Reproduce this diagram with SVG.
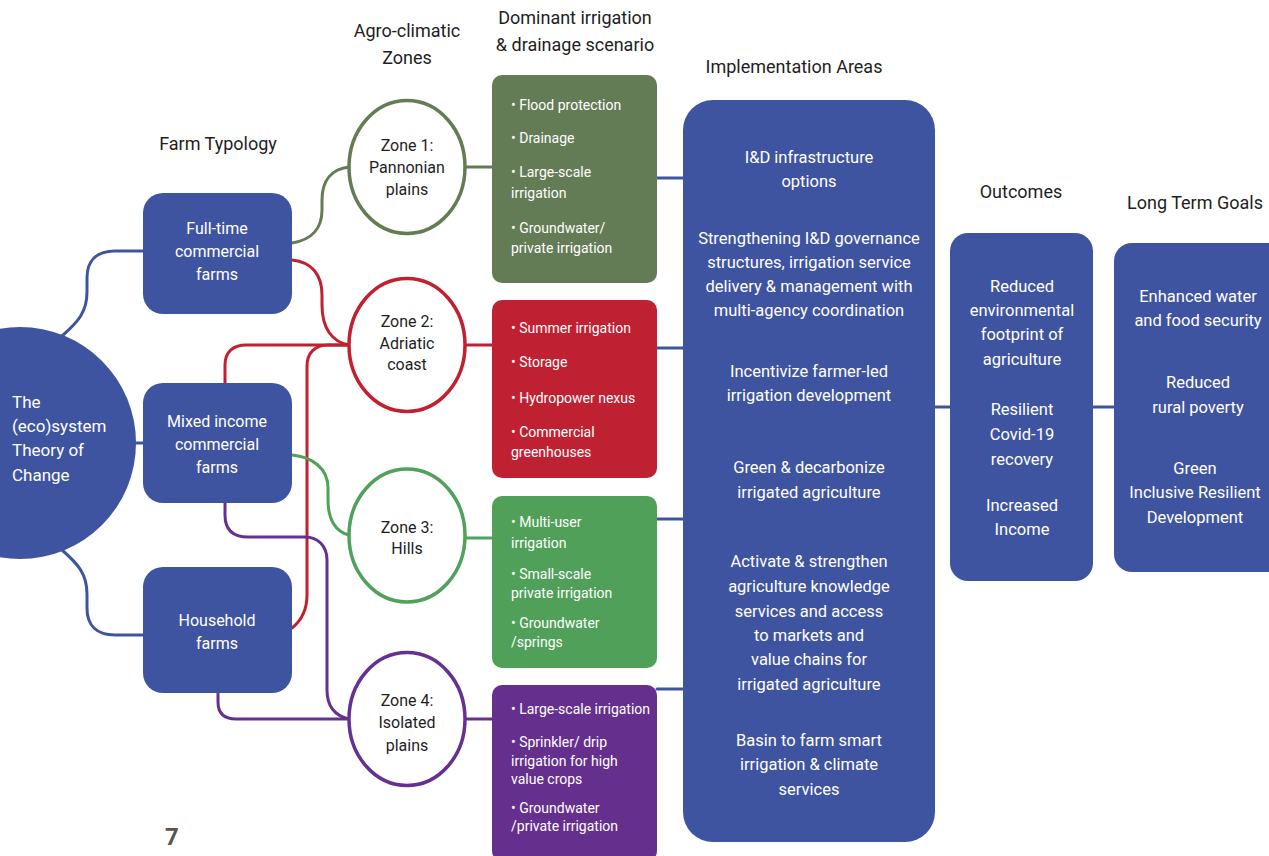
<svg xmlns="http://www.w3.org/2000/svg" width="1269" height="856" viewBox="0 0 1269 856">
<style>
  .hdr{font-family:Roboto,"Liberation Sans",sans-serif;font-size:18px;fill:#1e1e1e;text-anchor:middle}
  .wt{font-family:Roboto,"Liberation Sans",sans-serif;font-weight:400;fill:#ffffff}
  .c{text-anchor:middle}
  .big{font-size:16.5px}
  .farm{font-size:16px}
  .sc{font-size:14px}
  .zt{font-family:Roboto,"Liberation Sans",sans-serif;font-weight:400;font-size:16px;fill:#1e1e1e;text-anchor:middle}
  .blue{fill:#3F54A0}
  .ln{fill:none;stroke-width:3;stroke-linecap:round;stroke-linejoin:round}
  .lb{stroke:#3F54A0}
  .lo{stroke:#637C53}
  .lr{stroke:#C0202F}
  .lg{stroke:#50A15A}
  .lp{stroke:#653090}
  .zone{fill:#ffffff;stroke-width:3.5}
</style>

<!-- headers -->
<g id="headers">
  <text class="hdr" x="218" y="150">Farm Typology</text>
  <text class="hdr" x="407" y="37">Agro-climatic</text>
  <text class="hdr" x="407" y="64">Zones</text>
  <text class="hdr" x="575" y="24">Dominant irrigation</text>
  <text class="hdr" x="575" y="51">&amp; drainage scenario</text>
  <text class="hdr" x="794" y="73">Implementation Areas</text>
  <text class="hdr" x="1021" y="198">Outcomes</text>
  <text class="hdr" x="1195" y="209">Long Term Goals</text>
</g>

<!-- connectors -->
<g id="connectors">
  <path class="ln lb" d="M62 336 C78 322 87 312 87 292 L87 278 C87 260 97 251 115 251 L143 251"/>
  <path class="ln lb" d="M62 550 C78 564 87 574 87 594 L87 608 C87 626 97 635 115 635 L143 635"/>
  <path class="ln lb" d="M134 443 L143 443"/>

  <path class="ln lo" d="M292 243 C312 240 322 228 322 210 L322 200 C322 180 332 169 349 167"/>
  <path class="ln lr" d="M292 260 C312 262 322 275 322 295 L322 305 C322 328 332 342 349 345"/>
  <path class="ln lr" d="M225 383 L225 365 C225 352 233 345 246 345 L349 345"/>
  <path class="ln lr" d="M292 628 C302 620 307 610 307 595 L307 366 C307 353 315 345 328 345 L349 345"/>
  <path class="ln lg" d="M292 455 C312 457 328 468 328 488 L328 500 C328 520 336 532 349 535"/>
  <path class="ln lp" d="M225 503 L225 515 C225 530 233 537 248 537 L305 537 C318 537 327 546 327 560 L327 690 C327 708 336 716 349 719"/>
  <path class="ln lp" d="M218 693 L218 702 C218 713 224 719 236 719 L349 719"/>

  <path class="ln lo" d="M466 167 L493 167"/>
  <path class="ln lr" d="M466 345 L493 345"/>
  <path class="ln lg" d="M466 538 L493 538"/>
  <path class="ln lp" d="M466 719 L493 719"/>

  <path class="ln lb" d="M657 178 L683 178"/>
  <path class="ln lb" d="M657 348 L683 348"/>
  <path class="ln lb" d="M657 519 L683 519"/>
  <path class="ln lb" d="M657 689 L683 689"/>

  <path class="ln lb" d="M935 407 L950 407"/>
  <path class="ln lb" d="M1092 407 L1115 407"/>
</g>

<!-- root -->
<g id="root">
  <circle class="blue" cx="20" cy="443" r="116"/>
  <text class="wt" font-size="17" x="12" y="408">The</text>
  <text class="wt" font-size="17" x="12" y="432">(eco)system</text>
  <text class="wt" font-size="17" x="12" y="456">Theory of</text>
  <text class="wt" font-size="17" x="12" y="481">Change</text>
</g>

<!-- farms -->
<g id="farm-fulltime">
  <rect class="blue" x="143" y="193" width="149" height="121" rx="20"/>
  <text class="wt c farm" x="217" y="234">Full-time</text>
  <text class="wt c farm" x="217" y="257">commercial</text>
  <text class="wt c farm" x="217" y="280">farms</text>
</g>
<g id="farm-mixed">
  <rect class="blue" x="143" y="383" width="149" height="120" rx="20"/>
  <text class="wt c farm" x="217" y="427">Mixed income</text>
  <text class="wt c farm" x="217" y="450">commercial</text>
  <text class="wt c farm" x="217" y="473">farms</text>
</g>
<g id="farm-household">
  <rect class="blue" x="143" y="567" width="149" height="126" rx="20"/>
  <text class="wt c farm" x="217" y="626">Household</text>
  <text class="wt c farm" x="217" y="649">farms</text>
</g>

<!-- zones -->
<g id="zone1">
  <ellipse class="zone" cx="407" cy="167" rx="58" ry="66.5" stroke="#637C53"/>
  <text class="zt" x="407" y="151">Zone 1:</text>
  <text class="zt" x="407" y="173">Pannonian</text>
  <text class="zt" x="407" y="195">plains</text>
</g>
<g id="zone2">
  <ellipse class="zone" cx="407" cy="345" rx="58" ry="66.5" stroke="#C0202F"/>
  <text class="zt" x="407" y="327">Zone 2:</text>
  <text class="zt" x="407" y="349">Adriatic</text>
  <text class="zt" x="407" y="370">coast</text>
</g>
<g id="zone3">
  <ellipse class="zone" cx="407" cy="535.5" rx="58" ry="66.5" stroke="#50A15A"/>
  <text class="zt" x="407" y="533">Zone 3:</text>
  <text class="zt" x="407" y="554">Hills</text>
</g>
<g id="zone4">
  <ellipse class="zone" cx="407" cy="719" rx="58" ry="66.5" stroke="#653090"/>
  <text class="zt" x="407" y="706">Zone 4:</text>
  <text class="zt" x="407" y="728">Isolated</text>
  <text class="zt" x="407" y="751">plains</text>
</g>

<!-- scenarios -->
<g id="scenario1">
  <rect x="492" y="75" width="165" height="208" rx="10" fill="#647C55"/>
  <text class="wt sc" x="511" y="110">• Flood protection</text>
  <text class="wt sc" x="511" y="143">• Drainage</text>
  <text class="wt sc" x="511" y="177">• Large-scale</text>
  <text class="wt sc" x="511" y="198">irrigation</text>
  <text class="wt sc" x="511" y="233">• Groundwater/</text>
  <text class="wt sc" x="511" y="253">private irrigation</text>
</g>
<g id="scenario2">
  <rect x="492" y="300" width="165" height="178" rx="10" fill="#BF2132"/>
  <text class="wt sc" x="511" y="333">• Summer irrigation</text>
  <text class="wt sc" x="511" y="367">• Storage</text>
  <text class="wt sc" x="511" y="403">• Hydropower nexus</text>
  <text class="wt sc" x="511" y="437">• Commercial</text>
  <text class="wt sc" x="511" y="457">greenhouses</text>
</g>
<g id="scenario3">
  <rect x="492" y="496" width="165" height="172" rx="10" fill="#51A05A"/>
  <text class="wt sc" x="511" y="527">• Multi-user</text>
  <text class="wt sc" x="511" y="548">irrigation</text>
  <text class="wt sc" x="511" y="579">• Small-scale</text>
  <text class="wt sc" x="511" y="598">private irrigation</text>
  <text class="wt sc" x="511" y="628">• Groundwater</text>
  <text class="wt sc" x="511" y="647">/springs</text>
</g>
<g id="scenario4">
  <rect x="492" y="685" width="165" height="176" rx="10" fill="#652F8D"/>
  <text class="wt sc" x="511" y="714">• Large-scale irrigation</text>
  <text class="wt sc" x="511" y="747">• Sprinkler/ drip</text>
  <text class="wt sc" x="511" y="766">irrigation for high</text>
  <text class="wt sc" x="511" y="784">value crops</text>
  <text class="wt sc" x="511" y="813">• Groundwater</text>
  <text class="wt sc" x="511" y="831">/private irrigation</text>
</g>

<!-- implementation -->
<g id="implementation">
  <rect class="blue" x="683" y="100" width="252" height="742" rx="30"/>
  <text class="wt c big" x="809" y="163">I&amp;D infrastructure</text>
  <text class="wt c big" x="809" y="187">options</text>
  <text class="wt c big" x="809" y="244">Strengthening I&amp;D governance</text>
  <text class="wt c big" x="809" y="268">structures, irrigation service</text>
  <text class="wt c big" x="809" y="292">delivery &amp; management with</text>
  <text class="wt c big" x="809" y="316">multi-agency coordination</text>
  <text class="wt c big" x="809" y="377">Incentivize farmer-led</text>
  <text class="wt c big" x="809" y="401">irrigation development</text>
  <text class="wt c big" x="809" y="473">Green &amp; decarbonize</text>
  <text class="wt c big" x="809" y="498">irrigated agriculture</text>
  <text class="wt c big" x="809" y="567">Activate &amp; strengthen</text>
  <text class="wt c big" x="809" y="592">agriculture knowledge</text>
  <text class="wt c big" x="809" y="617">services and access</text>
  <text class="wt c big" x="809" y="641">to markets and</text>
  <text class="wt c big" x="809" y="665">value chains for</text>
  <text class="wt c big" x="809" y="690">irrigated agriculture</text>
  <text class="wt c big" x="809" y="746">Basin to farm smart</text>
  <text class="wt c big" x="809" y="770">irrigation &amp; climate</text>
  <text class="wt c big" x="809" y="795">services</text>
</g>

<!-- outcomes -->
<g id="outcomes">
  <rect class="blue" x="950" y="233" width="143" height="348" rx="18"/>
  <text class="wt c big" x="1022" y="292">Reduced</text>
  <text class="wt c big" x="1022" y="316">environmental</text>
  <text class="wt c big" x="1022" y="340">footprint of</text>
  <text class="wt c big" x="1022" y="365">agriculture</text>
  <text class="wt c big" x="1022" y="415">Resilient</text>
  <text class="wt c big" x="1022" y="440">Covid-19</text>
  <text class="wt c big" x="1022" y="465">recovery</text>
  <text class="wt c big" x="1022" y="511">Increased</text>
  <text class="wt c big" x="1022" y="535">Income</text>
</g>

<!-- goals -->
<g id="goals">
  <rect class="blue" x="1114" y="243" width="175" height="329" rx="18"/>
  <text class="wt c big" x="1198" y="302">Enhanced water</text>
  <text class="wt c big" x="1198" y="326">and food security</text>
  <text class="wt c big" x="1198" y="388">Reduced</text>
  <text class="wt c big" x="1198" y="413">rural poverty</text>
  <text class="wt c big" x="1195" y="474">Green</text>
  <text class="wt c big" x="1195" y="498">Inclusive Resilient</text>
  <text class="wt c big" x="1195" y="523">Development</text>
</g>

<text x="172" y="845" text-anchor="middle" font-family="Roboto,'Liberation Sans',sans-serif" font-weight="700" font-size="24" fill="#555555">7</text>
</svg>
